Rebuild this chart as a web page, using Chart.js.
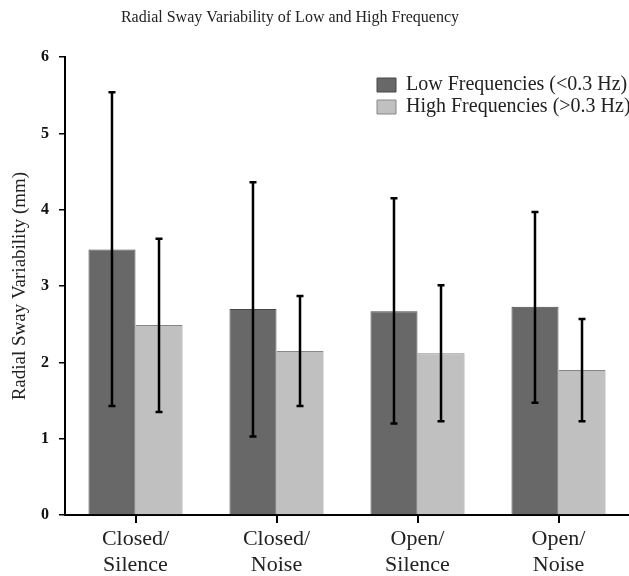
<!DOCTYPE html>
<html>
<head>
<meta charset="utf-8">
<script src="https://cdn.jsdelivr.net/npm/chart.js@4.4.1/dist/chart.umd.min.js"></script>
<style>
  html, body { margin: 0; padding: 0; background: #fff; }
  #wrap { width: 629px; height: 576px; }
</style>
</head>
<body>
<div id="wrap"><canvas id="sway-chart"></canvas></div>
<script>
const categories = [['Closed/', 'Silence'], ['Closed/', 'Noise'], ['Open/', 'Silence'], ['Open/', 'Noise']];
const seriesNames = ['Low Frequencies (<0.3 Hz)', 'High Frequencies (>0.3 Hz)'];

const lowMeans = [3.48, 2.70, 2.67, 2.73];
const lowErrLow = [1.43, 1.03, 1.20, 1.47];
const lowErrHigh = [5.54, 4.36, 4.15, 3.97];

const highMeans = [2.49, 2.15, 2.12, 1.90];
const highErrLow = [1.35, 1.43, 1.23, 1.23];
const highErrHigh = [3.62, 2.87, 3.01, 2.57];

const yTicks = [0, 1, 2, 3, 4, 5, 6];

const serif = "'Liberation Serif', 'Times New Roman', serif";

// whiskers on top of each bar
const errorBars = {
  id: 'errorBars',
  afterDatasetsDraw(chart) {
    const ctx = chart.ctx;
    const yScale = chart.scales.y;
    const ranges = [[lowErrLow, lowErrHigh], [highErrLow, highErrHigh]];
    ctx.save();
    ctx.strokeStyle = '#000';
    ctx.lineWidth = 2.5;
    chart.data.datasets.forEach((ds, di) => {
      let meta = chart.getDatasetMeta(di);
      meta.data.forEach((bar, i) => {
        let yLo = yScale.getPixelForValue(ranges[di][0][i]);
        let yHi = yScale.getPixelForValue(ranges[di][1][i]);
        ctx.beginPath();
        ctx.moveTo(bar.x, yLo); ctx.lineTo(bar.x, yHi);
        ctx.moveTo(bar.x - 3.5, yLo); ctx.lineTo(bar.x + 3.5, yLo);
        ctx.moveTo(bar.x - 3.5, yHi); ctx.lineTo(bar.x + 3.5, yHi);
        ctx.stroke();
      });
    });
    ctx.restore();
  }
};

// move legend into the upper right of the plot, nudge title left
const placeBoxes = {
  id: 'placeBoxes',
  afterLayout(chart) {
    let lg = chart.legend;
    let w = lg.width, h = lg.height;
    lg.left = 375; lg.top = 73;
    lg.right = lg.left + w; lg.bottom = lg.top + h;
    let tb = chart.titleBlock;
    tb.right = tb.left + 580;
  }
};

let ctx = document.getElementById('sway-chart');
new Chart(ctx, {
  type: 'bar',
  data: {
    labels: categories,
    datasets: [{
      label: seriesNames[0],
      data: lowMeans,
      backgroundColor: '#686868',
      borderColor: '#474747',
      borderWidth: 1,
      categoryPercentage: 0.667,
      barPercentage: 1.0
    }, {
      label: seriesNames[1],
      data: highMeans,
      backgroundColor: '#c0c0c0',
      borderColor: '#878787',
      borderWidth: 1,
      categoryPercentage: 0.667,
      barPercentage: 1.0
    }]
  },
  options: {
    responsive: true,
    maintainAspectRatio: false,
    animation: false,
    layout: { padding: 0 },
    plugins: {
      title: {
        display: true,
        text: 'Radial Sway Variability of Low and High Frequency',
        color: '#222',
        font: { family: serif, size: 16, weight: 'normal', lineHeight: 1.2 },
        padding: { top: 8, bottom: 30 }
      },
      legend: {
        display: true,
        position: 'chartArea',
        align: 'start',
        labels: {
          boxWidth: 19,
          boxHeight: 14,
          padding: 2,
          color: '#222',
          font: { family: serif, size: 20, lineHeight: 1.0 }
        }
      },
      tooltip: { enabled: false }
    },
    scales: {
      x: {
        offset: true,
        afterFit: (scale) => { scale.height = 61; },
        border: { display: true, color: '#000', width: 2 },
        grid: {
          offset: false,
          drawOnChartArea: false,
          drawTicks: true,
          tickLength: 8,
          color: '#000',
          lineWidth: 2
        },
        ticks: {
          color: '#222',
          padding: 3,
          maxRotation: 0,
          font: { family: serif, size: 22, lineHeight: 1.2 }
        }
      },
      y: {
        min: 0,
        max: 6,
        afterFit: (scale) => { scale.width = 65; },
        afterBuildTicks: (scale) => { scale.ticks = yTicks.map(v => ({ value: v })); },
        border: { display: true, color: '#000', width: 2 },
        grid: {
          drawOnChartArea: false,
          drawTicks: true,
          tickLength: 6,
          color: '#000',
          lineWidth: 1.5
        },
        ticks: {
          color: '#111',
          padding: 10,
          font: { family: serif, size: 16, weight: 'bold' }
        },
        title: {
          display: true,
          text: 'Radial Sway Variability (mm)',
          color: '#222',
          padding: { top: 9, bottom: 0 },
          font: { family: serif, size: 19, lineHeight: 1.2 }
        }
      }
    }
  },
  plugins: [errorBars, placeBoxes]
});
</script>
</body>
</html>
